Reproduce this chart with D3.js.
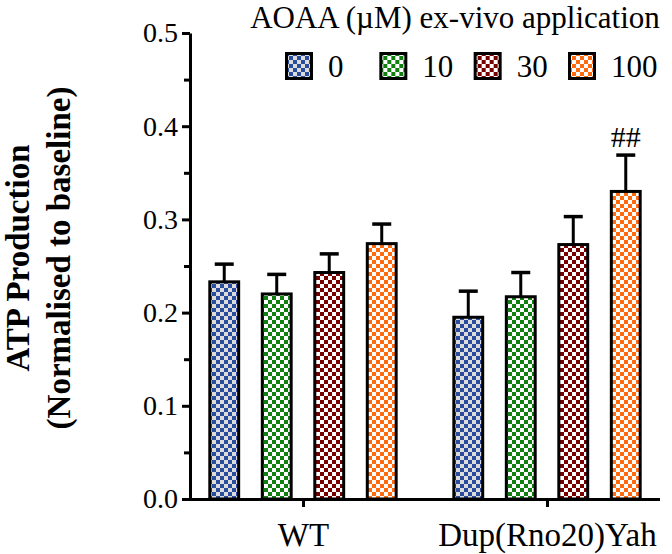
<!DOCTYPE html>
<html><head><meta charset="utf-8">
<script src="https://cdn.jsdelivr.net/npm/d3@7"></script>
<style>body{margin:0;background:#fff}svg{display:block}</style>
</head><body>
<svg id="c" width="672" height="554"></svg>
<script>
const groups = ["WT", "Dup(Rno20)Yah"];
const doses = ["0", "10", "30", "100"];
const colors = ["#2a4c9c", "#118011", "#7a0000", "#ff6a0e"];
const lightColors = ["#dcdcdc", "#ffffff", "#ffffff", "#ffffff"];
const meanWT = [0.233, 0.220, 0.243, 0.274];
const semWT = [0.019, 0.021, 0.020, 0.021];
const meanDup = [0.195, 0.217, 0.273, 0.330];
const semDup = [0.028, 0.026, 0.030, 0.039];
const yTicks = [0, 0.1, 0.2, 0.3, 0.4, 0.5];
const yMinorTicks = [0.05, 0.15, 0.25, 0.35, 0.45];
const annotations = [{group: "Dup(Rno20)Yah", dose: "100", text: "##"}];
const legendTitle = "AOAA (\u00b5M) ex-vivo application";
const yLabel = ["ATP Production", "(Normalised to baseline)"];

const data = [];
groups.forEach((g, gi) => {
  const m = gi === 0 ? meanWT : meanDup;
  const s = gi === 0 ? semWT : semDup;
  doses.forEach((d, di) => data.push({group: g, dose: d, di, mean: m[di], sem: s[di]}));
});

const FONT = "'Liberation Serif', serif";
const svg = d3.select("#c");
const x0 = d3.scalePoint().domain(groups).range([190, 660]).padding(0.463);
const x1 = d3.scaleBand().domain(doses).range([-105, 105]).paddingInner(0.45).paddingOuter(0.225);
const y = d3.scaleLinear().domain([0, 0.5]).range([499, 33]);

// patterns
const defs = svg.append("defs");
doses.forEach((d, i) => {
  const p = defs.append("pattern").attr("id", "pat" + i)
    .attr("patternUnits", "userSpaceOnUse").attr("width", 8).attr("height", 8);
  p.append("rect").attr("width", 8).attr("height", 8).attr("fill", lightColors[i]);
  p.append("rect").attr("width", 4).attr("height", 4).attr("fill", colors[i]);
  p.append("rect").attr("x", 4).attr("y", 4).attr("width", 4).attr("height", 4).attr("fill", colors[i]);
});

// error bars
const eb = svg.append("g");
data.forEach(d => {
  const cx = x0(d.group) + x1(d.dose) + x1.bandwidth() / 2;
  eb.append("line").attr("x1", cx).attr("x2", cx).attr("y1", y(d.mean)).attr("y2", y(d.mean + d.sem))
    .attr("stroke", "#000").attr("stroke-width", 3);
  eb.append("line").attr("x1", cx - 9.5).attr("x2", cx + 9.5).attr("y1", y(d.mean + d.sem)).attr("y2", y(d.mean + d.sem))
    .attr("stroke", "#000").attr("stroke-width", 3.5);
});

// bars
svg.append("g").selectAll("rect").data(data).join("rect")
  .attr("x", d => x0(d.group) + x1(d.dose))
  .attr("y", d => y(d.mean))
  .attr("width", x1.bandwidth())
  .attr("height", d => y(0) - y(d.mean))
  .attr("fill", d => `url(#pat${d.di})`)
  .attr("stroke", "#000").attr("stroke-width", 3);

// annotations
annotations.forEach(a => {
  const d = data.find(e => e.group === a.group && e.dose === a.dose);
  svg.append("text").attr("x", x0(a.group) + x1(a.dose) + x1.bandwidth() / 2)
    .attr("y", y(d.mean + d.sem) - 8).attr("text-anchor", "middle")
    .attr("font-family", FONT).attr("font-size", 30).text(a.text);
});

// y axis
const ya = svg.append("g").attr("transform", "translate(190,0)")
  .call(d3.axisLeft(y).tickValues(yTicks).tickFormat(d3.format(".1f")).tickSize(8).tickSizeOuter(0).tickPadding(4));
ya.selectAll("line").attr("stroke-width", 3);
ya.select(".domain").attr("stroke-width", 3);
ya.selectAll("text").attr("font-family", FONT).attr("font-size", 28).attr("fill", "#000");
const yam = svg.append("g").attr("transform", "translate(190,0)")
  .call(d3.axisLeft(y).tickValues(yMinorTicks).tickFormat("").tickSize(6).tickSizeOuter(0));
yam.select(".domain").remove();
yam.selectAll("line").attr("stroke-width", 3);

// x axis
const xa = svg.append("g").attr("transform", "translate(0,499)")
  .call(d3.axisBottom(x0).tickSize(8).tickSizeOuter(0).tickPadding(16));
xa.select(".domain").attr("d", "M188.5,0.5H660").attr("stroke-width", 3);
xa.selectAll("line").attr("stroke-width", 3);
xa.selectAll("text").attr("font-family", FONT).attr("font-size", 33).attr("fill", "#000");

// y label
const yl = svg.append("text").attr("transform", "translate(0,258) rotate(-90)")
  .attr("text-anchor", "middle").attr("font-family", FONT).attr("font-weight", "bold").attr("font-size", 33);
yl.append("tspan").attr("x", 0).attr("y", 29).text(yLabel[0]);
yl.append("tspan").attr("x", 0).attr("y", 70).text(yLabel[1]);

// legend
svg.append("text").attr("x", 455).attr("y", 28).attr("text-anchor", "middle")
  .attr("font-family", FONT).attr("font-size", 31).text(legendTitle);
const lx = d3.scalePoint().domain(doses).range([285, 568]);
const lg = svg.append("g").selectAll("g").data(doses).join("g")
  .attr("transform", d => `translate(${lx(d)},52)`);
lg.append("rect").attr("x", 1.5).attr("y", 1.5).attr("width", 25).attr("height", 25)
  .attr("fill", (d, i) => `url(#pat${i})`).attr("stroke", "#000").attr("stroke-width", 3);
lg.append("text").attr("x", 43).attr("y", 25).attr("font-family", FONT).attr("font-size", 31).text(d => d);
</script>
</body></html>
